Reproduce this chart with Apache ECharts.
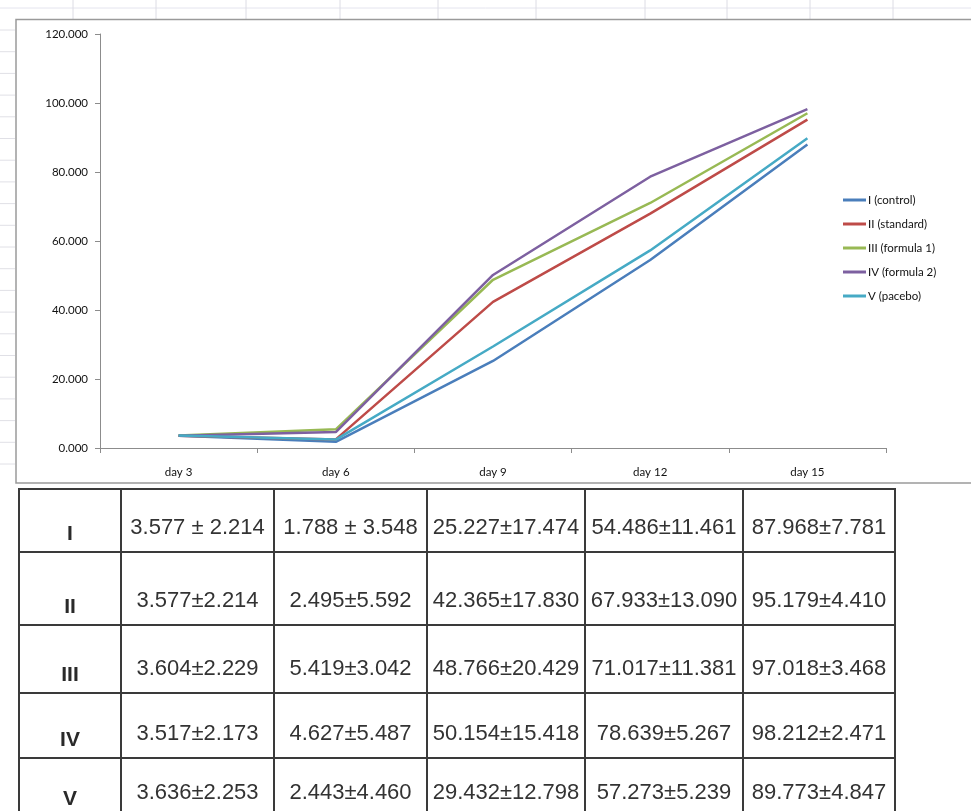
<!DOCTYPE html>
<html>
<head>
<meta charset="utf-8">
<script src="https://cdn.jsdelivr.net/npm/echarts@6/dist/echarts.min.js"></script>
<style>
  html, body { margin: 0; padding: 0; background: #fff; overflow: hidden; }
  #chart { position: absolute; left: 0; top: 0; width: 971px; height: 811px; }
  #tbl { position: absolute; left: 18px; top: 488px; border-collapse: collapse; table-layout: fixed; }
  #tbl td { border: 2px solid #3a3a3a; padding: 0; white-space: nowrap; text-align: center;
            vertical-align: bottom; font-family: "Liberation Sans", Arial, sans-serif; color: #333; }
  #tbl td.v { font-size: 22px; padding-bottom: 11px; }
  #tbl td.l { font-size: 21px; font-weight: bold; color: #2a2a2a; padding-bottom: 6px; }
</style>
</head>
<body>
<div id="chart"></div>
<table id="tbl"></table>
<script>
// ---- data ----
const categories = ['day 3', 'day 6', 'day 9', 'day 12', 'day 15'];
const seriesNames = ['I (control)', 'II (standard)', 'III (formula 1)', 'IV (formula 2)', 'V (pacebo)'];
const rowLabels = ['I', 'II', 'III', 'IV', 'V'];
const meanI   = [3.577, 1.788, 25.227, 54.486, 87.968];
const meanII  = [3.577, 2.495, 42.365, 67.933, 95.179];
const meanIII = [3.604, 5.419, 48.766, 71.017, 97.018];
const meanIV  = [3.517, 4.627, 50.154, 78.639, 98.212];
const meanV   = [3.636, 2.443, 29.432, 57.273, 89.773];
const sdI   = ['2.214', '3.548', '17.474', '11.461', '7.781'];
const sdII  = ['2.214', '5.592', '17.830', '13.090', '4.410'];
const sdIII = ['2.229', '3.042', '20.429', '11.381', '3.468'];
const sdIV  = ['2.173', '5.487', '15.418', '5.267', '2.471'];
const sdV   = ['2.253', '4.460', '12.798', '5.239', '4.847'];
const yTicks = [0, 20, 40, 60, 80, 100, 120];

const means = [meanI, meanII, meanIII, meanIV, meanV];
const sds = [sdI, sdII, sdIII, sdIV, sdV];
const colors = ['#4A7EBB', '#BE4B48', '#98B954', '#7D60A0', '#46AAC5'];

// ---- table ----
const colW = [102, 153, 153, 158, 158, 152];
const rowH = [63, 73, 68, 65, 59];
const tbl = document.getElementById('tbl');
const cg = document.createElement('colgroup');
colW.forEach(w => { const c = document.createElement('col'); c.style.width = w + 'px'; cg.appendChild(c); });
tbl.appendChild(cg);
rowLabels.forEach((lab, r) => {
  const tr = document.createElement('tr');
  tr.style.height = rowH[r] + 'px';
  const td0 = document.createElement('td'); td0.className = 'l'; td0.textContent = lab; tr.appendChild(td0);
  means[r].forEach((m, c) => {
    const td = document.createElement('td'); td.className = 'v';
    const sep = (r === 0 && c < 2) ? ' \u00B1 ' : '\u00B1';
    td.textContent = m.toFixed(3) + sep + sds[r][c];
    tr.appendChild(td);
  });
  tbl.appendChild(tr);
});

// ---- chart ----
const chart = echarts.init(document.getElementById('chart'));
const font = 'Lato, "Open Sans", sans-serif';
const cellXs = [73, 156, 246, 340, 438, 536, 645, 727, 810, 893];
const gfx = [];
gfx.push({ type: 'line', shape: { x1: 0, y1: 8, x2: 971, y2: 8 }, style: { stroke: '#e4e4ee', lineWidth: 1 }, z: 0 });
cellXs.forEach(x => gfx.push({ type: 'line', shape: { x1: x, y1: 0, x2: x, y2: 19 }, style: { stroke: '#dcdce4', lineWidth: 1 }, z: 0 }));
for (let y = 30; y < 480; y += 21.7) {
  gfx.push({ type: 'line', shape: { x1: 0, y1: y, x2: 15, y2: y }, style: { stroke: '#e0e0e6', lineWidth: 1 }, z: 0 });
}
gfx.push({ type: 'rect', shape: { x: 16, y: 19.5, width: 980, height: 463.5 }, style: { fill: 'none', stroke: '#9a9a9a', lineWidth: 1.5 }, z: 1 });

chart.setOption({
  animation: false,
  backgroundColor: '#fff',
  color: colors,
  graphic: gfx,
  grid: { left: 100, top: 34, width: 786, height: 414 },
  legend: {
    orient: 'vertical', left: 838, top: 189,
    itemWidth: 23, itemHeight: 3, itemGap: 12,
    icon: 'rect',
    textStyle: { fontFamily: font, fontSize: 11.5, color: '#111', padding: [0, 0, 0, -3] },
    data: seriesNames
  },
  xAxis: {
    type: 'category', data: categories, boundaryGap: true,
    axisLine: { lineStyle: { color: '#8c8c8c', width: 1 } },
    axisTick: { show: true, length: 5, lineStyle: { color: '#8c8c8c' } },
    axisLabel: { fontFamily: font, fontSize: 11.5, color: '#111', margin: 18 }
  },
  yAxis: {
    type: 'value', min: yTicks[0], max: yTicks[yTicks.length - 1], interval: 20,
    axisLine: { show: true, lineStyle: { color: '#8c8c8c', width: 1 } },
    axisTick: { show: true, length: 5, lineStyle: { color: '#8c8c8c' } },
    splitLine: { show: false },
    axisLabel: { fontFamily: font, fontSize: 11.5, color: '#111', margin: 12, formatter: v => v.toFixed(3) }
  },
  series: seriesNames.map((n, i) => ({
    name: n, type: 'line', data: means[i], symbol: 'none',
    lineStyle: { width: 2.5, color: colors[i] }, itemStyle: { color: colors[i] }
  }))
});
</script>
</body>
</html>
